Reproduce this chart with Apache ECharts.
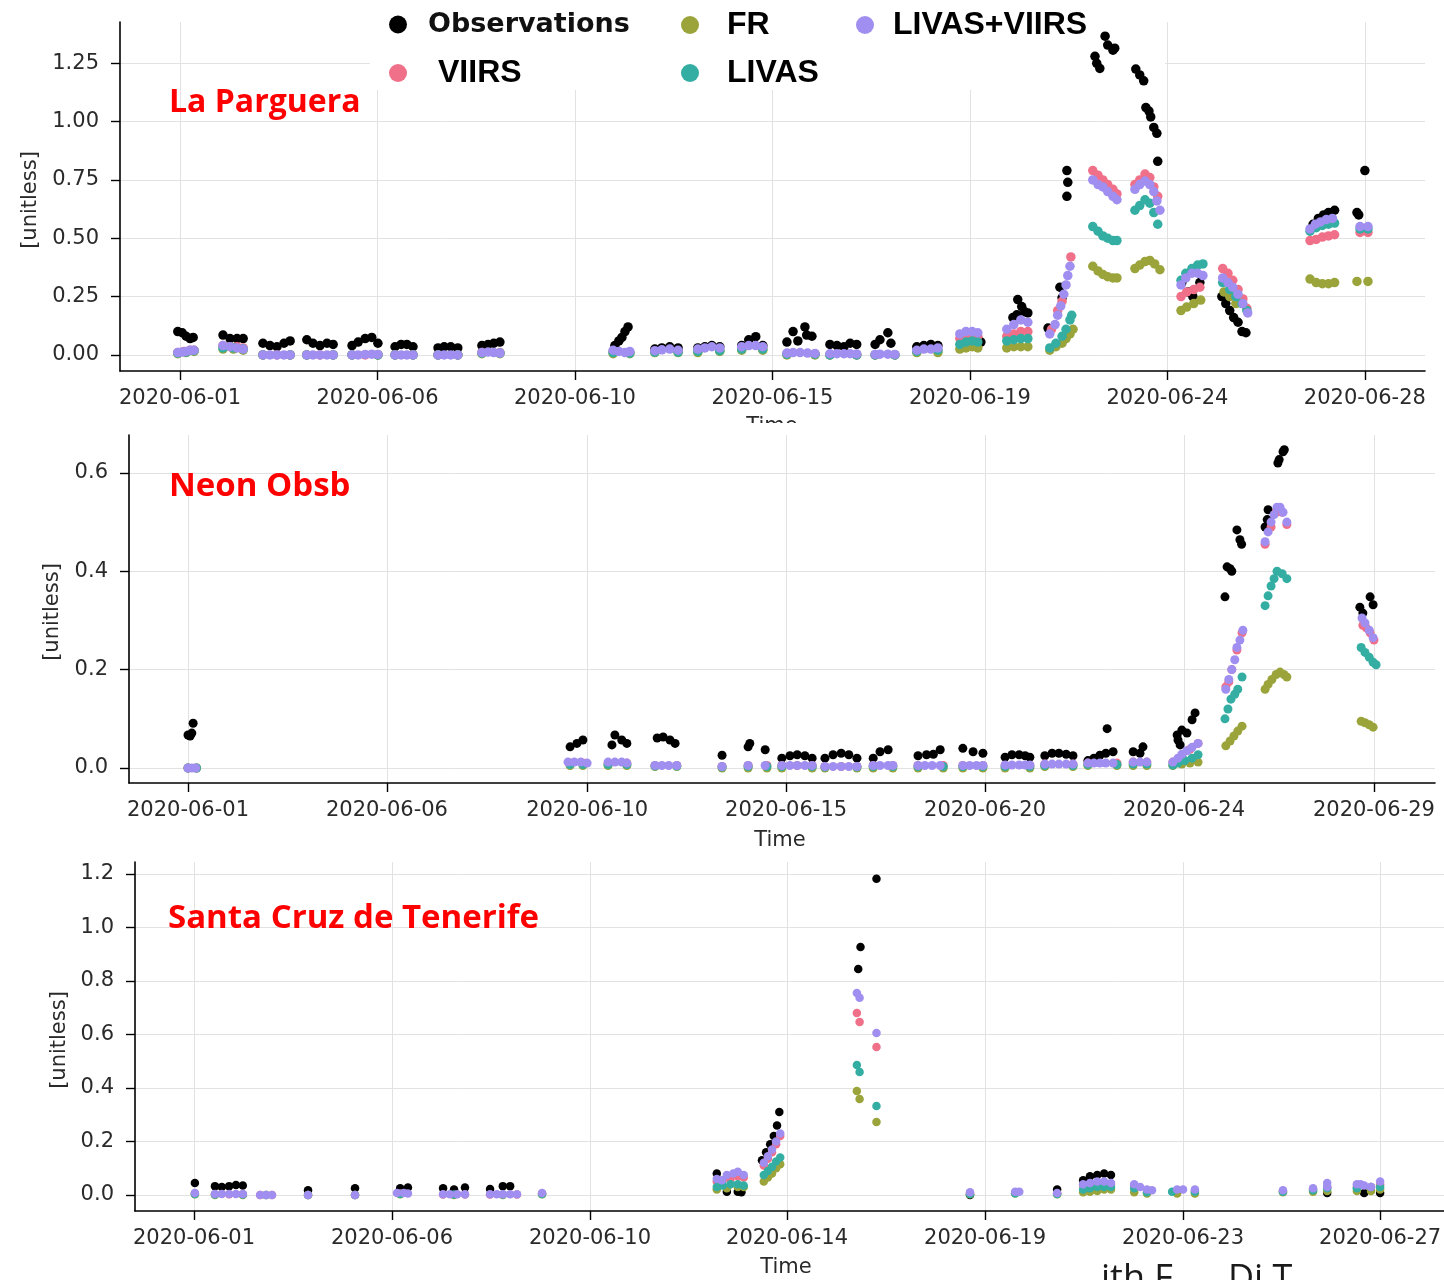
<!DOCTYPE html>
<html>
<head>
<meta charset="utf-8">
<title>Aerosol time series</title>
<script src="https://cdn.jsdelivr.net/npm/echarts@6/dist/echarts.min.js"></script>
<style>
  html, body { margin: 0; padding: 0; background: #ffffff; }
  #chart { width: 1444px; height: 1280px; }
</style>
</head>
<body>
<div id="chart"></div>
<script>
// x values are days since 2020-06-01 00:00; y values are unitless.
const seriesNames = ['Observations', 'VIIRS', 'FR', 'LIVAS', 'LIVAS+VIIRS'];

// ---------- La Parguera ----------
const parguera_obs = [
  [-0.05,0.10],[0.05,0.095],[0.14,0.08],[0.23,0.07],[0.30,0.075],
  [0.98,0.085],[1.14,0.07],[1.30,0.07],[1.44,0.07],
  [1.89,0.05],[2.05,0.04],[2.21,0.035],[2.37,0.05],[2.51,0.06],
  [2.89,0.065],[3.03,0.05],[3.19,0.04],[3.35,0.05],[3.49,0.045],
  [3.92,0.04],[4.06,0.055],[4.22,0.07],[4.37,0.075],[4.51,0.05],
  [4.90,0.035],[5.04,0.045],[5.17,0.045],[5.31,0.035],
  [5.88,0.03],[6.02,0.035],[6.17,0.035],[6.33,0.03],
  [6.88,0.04],[7.02,0.045],[7.15,0.05],[7.29,0.055],
  [9.91,0.04],[10.00,0.06],[10.07,0.075],[10.14,0.10],[10.21,0.12],
  [10.82,0.025],[10.98,0.03],[11.16,0.035],[11.35,0.03],
  [11.80,0.03],[11.96,0.035],[12.12,0.04],[12.30,0.035],
  [12.80,0.04],[12.96,0.065],[13.12,0.078],[13.28,0.04],
  [13.83,0.055],[13.97,0.10],[14.08,0.06],[14.24,0.12],[14.28,0.085],[14.40,0.08],
  [14.81,0.045],[14.97,0.04],[15.13,0.035],[15.27,0.05],[15.42,0.045],
  [15.84,0.045],[15.95,0.065],[16.13,0.095],[16.20,0.05],
  [16.79,0.035],[16.95,0.04],[17.11,0.045],[17.27,0.04],
  [17.84,0.05],[18.05,0.06],[18.25,0.055],
  [18.98,0.16],[19.07,0.172],[19.09,0.237],[19.18,0.207],[19.25,0.185],[19.32,0.18],
  [19.78,0.115],[20.05,0.29],[20.10,0.245],[20.21,0.79],[20.23,0.74],[20.21,0.68],
  [20.85,1.28],[20.89,1.25],[20.96,1.228],[21.08,1.366],[21.14,1.328],[21.26,1.306],[21.30,1.315],
  [21.78,1.225],[21.87,1.20],[21.96,1.175],[22.01,1.06],[22.08,1.045],[22.12,1.02],[22.19,0.975],[22.26,0.95],[22.28,0.83],
  [22.83,0.31],[22.97,0.27],[23.08,0.25],[23.24,0.31],
  [23.74,0.25],[23.83,0.22],[23.92,0.19],[24.01,0.16],[24.11,0.14],[24.20,0.10],[24.29,0.095],
  [25.82,0.56],[25.94,0.585],[26.06,0.60],[26.17,0.61],[26.31,0.62],
  [26.82,0.61],[26.86,0.60],[27.00,0.79]
];
const parguera_viirs = [
  [-0.05,0.01],[0.09,0.015],[0.23,0.02],[0.32,0.02],
  [0.98,0.04],[1.14,0.035],[1.30,0.035],[1.44,0.03],
  [1.89,0.0],[2.21,0.0],[2.51,0.0],[2.89,0.0],[3.19,0.0],[3.49,0.0],
  [3.92,0.0],[4.22,0.0],[4.51,0.0],[4.90,0.0],[5.31,0.0],[5.88,0.0],[6.33,0.0],
  [6.88,0.01],[7.29,0.01],[9.87,0.015],[10.25,0.01],[10.82,0.015],[11.35,0.015],
  [11.80,0.02],[12.30,0.02],[12.80,0.03],[13.28,0.03],[13.83,0.005],[14.47,0.005],
  [14.81,0.0],[15.42,0.0],[15.84,0.0],[16.29,0.0],[16.79,0.015],[17.27,0.02],
  [17.77,0.07],[17.91,0.08],[18.05,0.085],[18.18,0.08],
  [18.84,0.08],[19.00,0.09],[19.16,0.10],[19.32,0.10],
  [19.86,0.11],[20.00,0.19],[20.10,0.23],[20.30,0.42],
  [20.80,0.79],[20.92,0.77],[21.03,0.75],[21.14,0.73],[21.26,0.71],[21.35,0.69],
  [21.76,0.73],[21.87,0.75],[21.99,0.775],[22.10,0.76],[22.19,0.72],[22.28,0.68],
  [22.81,0.25],[22.94,0.27],[23.10,0.28],[23.24,0.29],
  [23.76,0.37],[23.88,0.35],[23.99,0.32],[24.11,0.28],[24.22,0.24],[24.31,0.20],
  [25.75,0.49],[25.89,0.495],[26.03,0.505],[26.17,0.51],[26.31,0.515],
  [26.89,0.525],[27.07,0.525]
];
const parguera_fr = [
  [-0.05,0.005],[0.14,0.01],[0.32,0.015],[0.98,0.025],[1.22,0.025],[1.44,0.02],
  [1.89,0.0],[2.51,0.0],[2.89,0.0],[3.49,0.0],[3.92,0.0],[4.51,0.0],[4.90,0.0],[5.31,0.0],
  [5.88,0.0],[6.33,0.0],[6.88,0.005],[7.29,0.005],[9.87,0.005],[10.25,0.005],
  [10.82,0.01],[11.35,0.01],[11.80,0.01],[12.30,0.015],[12.80,0.02],[13.28,0.02],
  [13.83,0.0],[14.47,0.0],[14.81,0.0],[15.42,0.0],[15.84,0.0],[16.29,0.0],[16.79,0.01],[17.27,0.01],
  [17.77,0.025],[17.91,0.03],[18.05,0.035],[18.18,0.03],
  [18.84,0.03],[19.00,0.035],[19.16,0.035],[19.32,0.035],
  [19.82,0.02],[19.96,0.035],[20.10,0.05],[20.19,0.07],[20.28,0.09],[20.35,0.11],
  [20.80,0.38],[20.92,0.36],[21.03,0.345],[21.14,0.335],[21.26,0.33],[21.35,0.33],
  [21.76,0.37],[21.87,0.385],[21.99,0.40],[22.10,0.405],[22.21,0.39],[22.33,0.365],
  [22.81,0.19],[22.94,0.205],[23.10,0.22],[23.26,0.235],
  [23.79,0.27],[23.92,0.25],[24.06,0.22],
  [25.75,0.325],[25.89,0.31],[26.03,0.305],[26.17,0.305],[26.31,0.31],
  [26.82,0.315],[27.07,0.315]
];
const parguera_livas = [
  [-0.05,0.008],[0.14,0.012],[0.32,0.018],[0.98,0.03],[1.22,0.03],[1.44,0.025],
  [1.89,0.0],[2.51,0.0],[2.89,0.0],[3.49,0.0],[3.92,0.0],[4.51,0.0],[4.90,0.0],[5.31,0.0],
  [5.88,0.0],[6.33,0.0],[6.88,0.008],[7.29,0.008],[9.87,0.01],[10.25,0.008],
  [10.82,0.012],[11.35,0.012],[11.80,0.015],[12.30,0.018],[12.80,0.025],[13.28,0.025],
  [13.83,0.003],[14.47,0.003],[14.81,0.0],[15.42,0.0],[15.84,0.0],[16.29,0.0],[16.79,0.015],[17.27,0.02],
  [17.77,0.045],[17.91,0.055],[18.05,0.06],[18.18,0.055],
  [18.84,0.06],[19.00,0.065],[19.16,0.07],[19.32,0.07],
  [19.82,0.03],[19.96,0.05],[20.10,0.08],[20.19,0.11],[20.28,0.15],[20.32,0.17],
  [20.80,0.55],[20.92,0.53],[21.03,0.51],[21.14,0.50],[21.26,0.49],[21.35,0.49],
  [21.76,0.62],[21.87,0.64],[21.99,0.665],[22.10,0.65],[22.19,0.61],[22.28,0.56],
  [22.81,0.32],[22.92,0.35],[23.06,0.37],[23.19,0.385],[23.31,0.39],
  [23.76,0.31],[23.92,0.28],[24.06,0.25],[24.20,0.22],[24.31,0.19],
  [25.75,0.53],[25.89,0.545],[26.03,0.555],[26.17,0.56],[26.31,0.565],
  [26.89,0.54],[27.07,0.54]
];
const parguera_livasViirs = [
  [-0.05,0.01],[0.05,0.012],[0.14,0.015],[0.23,0.02],[0.32,0.02],
  [0.98,0.04],[1.14,0.035],[1.30,0.03],[1.44,0.025],
  [1.89,0.0],[2.05,0.0],[2.21,0.0],[2.37,0.0],[2.51,0.0],
  [2.89,0.0],[3.03,0.0],[3.19,0.0],[3.35,0.0],[3.49,0.0],
  [3.92,0.0],[4.06,0.0],[4.22,0.002],[4.37,0.003],[4.51,0.002],
  [4.90,0.0],[5.04,0.0],[5.17,0.0],[5.31,0.0],
  [5.88,0.0],[6.02,0.0],[6.17,0.0],[6.33,0.0],
  [6.88,0.01],[7.02,0.012],[7.15,0.01],[7.29,0.008],
  [9.87,0.02],[10.00,0.015],[10.14,0.01],[10.25,0.015],
  [10.82,0.018],[10.98,0.022],[11.16,0.025],[11.35,0.02],
  [11.80,0.025],[11.96,0.03],[12.12,0.035],[12.30,0.03],
  [12.80,0.035],[12.96,0.04],[13.12,0.04],[13.28,0.035],
  [13.83,0.008],[13.97,0.01],[14.13,0.01],[14.30,0.008],[14.47,0.006],
  [14.81,0.005],[14.97,0.005],[15.13,0.005],[15.27,0.005],[15.42,0.004],
  [15.84,0.002],[15.95,0.003],[16.13,0.003],[16.29,0.002],
  [16.79,0.02],[16.95,0.025],[17.11,0.025],[17.27,0.03],
  [17.77,0.09],[17.91,0.10],[18.05,0.10],[18.18,0.095],
  [18.84,0.11],[19.00,0.13],[19.16,0.15],[19.32,0.14],
  [19.82,0.09],[19.94,0.13],[20.00,0.17],[20.07,0.21],[20.14,0.26],[20.19,0.30],[20.23,0.34],[20.28,0.38],
  [20.80,0.75],[20.92,0.73],[21.03,0.72],[21.14,0.70],[21.26,0.68],[21.35,0.665],
  [21.76,0.71],[21.87,0.73],[21.99,0.745],[22.10,0.73],[22.19,0.70],[22.26,0.66],[22.33,0.62],
  [22.81,0.30],[22.92,0.33],[23.06,0.35],[23.19,0.35],[23.31,0.34],
  [23.76,0.33],[23.88,0.31],[23.99,0.29],[24.11,0.26],[24.22,0.22],[24.33,0.18],
  [25.75,0.54],[25.87,0.56],[25.99,0.57],[26.12,0.58],[26.26,0.585],
  [26.89,0.55],[27.07,0.55]
];

// ---------- Neon Obsb ----------
const neon_obs = [
  [0.00,0.067],[0.05,0.065],[0.09,0.071],[0.12,0.091],
  [8.95,0.043],[9.11,0.05],[9.25,0.057],
  [9.93,0.047],[10.00,0.067],[10.16,0.057],[10.28,0.05],
  [10.99,0.061],[11.13,0.063],[11.29,0.057],[11.41,0.05],
  [12.51,0.026],
  [13.12,0.043],[13.16,0.05],[13.52,0.037],
  [13.91,0.02],[14.10,0.025],[14.27,0.027],[14.45,0.025],[14.62,0.02],
  [14.92,0.02],[15.11,0.027],[15.30,0.03],[15.48,0.027],[15.67,0.02],
  [16.05,0.02],[16.21,0.033],[16.40,0.037],
  [17.10,0.025],[17.30,0.027],[17.46,0.028],[17.62,0.037],
  [18.15,0.04],[18.39,0.033],[18.62,0.03],
  [19.14,0.022],[19.30,0.027],[19.47,0.027],[19.61,0.025],[19.72,0.022],
  [20.07,0.025],[20.24,0.03],[20.40,0.03],[20.57,0.028],[20.73,0.025],
  [21.08,0.015],[21.22,0.02],[21.36,0.026],[21.50,0.03],[21.53,0.08],[21.67,0.033],
  [22.14,0.033],[22.30,0.03],[22.37,0.043],
  [23.17,0.067],[23.19,0.057],[23.24,0.047],[23.28,0.077],[23.40,0.071],[23.52,0.098],[23.59,0.112],
  [24.29,0.348],[24.34,0.409],[24.41,0.405],[24.45,0.40],[24.57,0.484],[24.64,0.464],[24.68,0.455],
  [25.23,0.49],[25.28,0.505],[25.30,0.525],[25.53,0.62],[25.56,0.627],[25.65,0.643],[25.68,0.647],
  [27.45,0.327],[27.52,0.315],[27.69,0.348],[27.76,0.332]
];
const neon_viirs = [
  [0.00,0.0],[0.20,0.0],
  [8.95,0.01],[9.25,0.01],[9.84,0.01],[10.28,0.01],[10.94,0.005],[11.45,0.005],[12.51,0.003],
  [13.12,0.005],[13.56,0.005],[13.91,0.005],[14.27,0.005],[14.62,0.005],
  [14.92,0.003],[15.30,0.003],[15.67,0.003],[16.05,0.005],[16.51,0.005],
  [17.10,0.005],[17.69,0.005],[18.15,0.005],[18.62,0.005],[19.14,0.005],[19.72,0.005],
  [20.07,0.008],[20.73,0.008],[21.08,0.01],[21.76,0.01],[22.14,0.012],[22.46,0.012],
  [23.07,0.012],[23.28,0.025],[23.47,0.038],[23.66,0.05],
  [24.31,0.165],[24.38,0.175],[24.45,0.20],[24.57,0.24],[24.69,0.275],
  [25.23,0.455],[25.37,0.49],[25.49,0.52],[25.63,0.52],[25.74,0.495],
  [27.52,0.29],[27.60,0.285],[27.69,0.275],[27.78,0.26]
];
const neon_fr = [
  [0.00,0.0],[0.20,0.0],
  [8.95,0.005],[9.25,0.005],[9.84,0.005],[10.28,0.005],[10.94,0.003],[11.45,0.003],[12.51,0.0],
  [13.12,0.0],[13.56,0.0],[13.91,0.0],[14.62,0.0],[14.92,0.0],[15.67,0.0],[16.05,0.0],[16.51,0.0],
  [17.10,0.0],[17.69,0.0],[18.15,0.0],[18.62,0.0],[19.14,0.0],[19.72,0.0],
  [20.07,0.003],[20.73,0.003],[21.08,0.005],[21.76,0.005],[22.14,0.005],[22.46,0.005],
  [23.07,0.005],[23.28,0.008],[23.47,0.01],[23.66,0.012],
  [24.31,0.045],[24.41,0.055],[24.50,0.065],[24.59,0.075],[24.69,0.085],
  [25.23,0.16],[25.30,0.17],[25.39,0.18],[25.49,0.19],[25.58,0.195],[25.67,0.19],[25.74,0.185],
  [27.48,0.095],[27.57,0.092],[27.67,0.088],[27.76,0.083]
];
const neon_livas = [
  [0.00,0.0],[0.20,0.0],
  [8.95,0.007],[9.25,0.007],[9.84,0.007],[10.28,0.007],[10.94,0.004],[11.45,0.004],[12.51,0.002],
  [13.12,0.003],[13.56,0.003],[13.91,0.003],[14.62,0.003],[14.92,0.002],[15.67,0.002],[16.05,0.003],[16.51,0.003],
  [17.10,0.003],[17.69,0.003],[18.15,0.003],[18.62,0.003],[19.14,0.003],[19.72,0.003],
  [20.07,0.005],[20.73,0.005],[21.08,0.007],[21.76,0.007],[22.14,0.008],[22.46,0.008],
  [23.07,0.006],[23.19,0.01],[23.35,0.015],[23.52,0.02],[23.66,0.027],
  [24.29,0.10],[24.36,0.12],[24.43,0.14],[24.52,0.15],[24.59,0.16],[24.69,0.185],
  [25.23,0.33],[25.30,0.35],[25.37,0.37],[25.44,0.385],[25.51,0.40],[25.63,0.395],[25.74,0.385],
  [27.48,0.245],[27.57,0.235],[27.67,0.225],[27.76,0.215],[27.83,0.21]
];
const neon_livasViirs = [
  [0.00,0.0],[0.09,0.0],[0.18,0.0],
  [8.90,0.012],[9.05,0.012],[9.20,0.012],[9.35,0.01],
  [9.84,0.012],[10.00,0.012],[10.16,0.012],[10.28,0.01],
  [10.94,0.005],[11.10,0.005],[11.26,0.005],[11.45,0.005],
  [12.51,0.003],[13.12,0.005],[13.52,0.005],
  [13.91,0.005],[14.10,0.005],[14.27,0.005],[14.45,0.005],[14.62,0.005],
  [14.92,0.003],[15.11,0.003],[15.30,0.003],[15.48,0.003],[15.67,0.003],
  [16.05,0.005],[16.21,0.005],[16.40,0.005],[16.51,0.005],
  [17.10,0.005],[17.26,0.005],[17.43,0.005],[17.62,0.005],
  [18.15,0.005],[18.31,0.005],[18.47,0.005],[18.62,0.005],
  [19.14,0.006],[19.30,0.006],[19.47,0.006],[19.61,0.006],[19.72,0.006],
  [20.07,0.008],[20.24,0.008],[20.40,0.008],[20.57,0.008],[20.73,0.008],
  [21.08,0.01],[21.22,0.01],[21.36,0.01],[21.50,0.01],[21.67,0.01],
  [22.14,0.012],[22.30,0.012],[22.46,0.012],
  [23.07,0.012],[23.19,0.02],[23.28,0.028],[23.40,0.035],[23.52,0.042],[23.66,0.05],
  [24.31,0.16],[24.38,0.18],[24.45,0.20],[24.52,0.22],[24.57,0.245],[24.64,0.26],[24.71,0.28],
  [25.23,0.46],[25.30,0.48],[25.37,0.50],[25.44,0.515],[25.51,0.53],[25.58,0.53],[25.65,0.52],[25.74,0.50],
  [27.50,0.305],[27.57,0.295],[27.67,0.28],[27.76,0.265]
];

// ---------- Santa Cruz de Tenerife ----------
const tenerife_obs = [
  [0.02,0.045],
  [0.46,0.033],[0.61,0.03],[0.77,0.033],[0.92,0.037],[1.07,0.035],
  [2.50,0.018],[3.53,0.025],[4.52,0.025],[4.69,0.028],
  [5.46,0.025],[5.70,0.02],[5.94,0.028],
  [6.49,0.022],[6.77,0.033],[6.93,0.033],
  [11.46,0.08],[11.68,0.012],[11.92,0.012],[12.00,0.01],
  [12.45,0.13],[12.54,0.16],[12.63,0.19],[12.71,0.22],[12.78,0.26],[12.83,0.31],
  [14.56,0.845],[14.61,0.927],[14.96,1.182],
  [17.01,0.0],[18.92,0.02],
  [19.49,0.055],[19.64,0.07],[19.80,0.075],[19.95,0.08],[20.10,0.075],
  [24.84,0.007],[25.65,0.007],[26.00,0.007]
];
const tenerife_viirs = [
  [0.02,0.005],[0.46,0.003],[0.77,0.003],[1.07,0.003],[1.45,0.0],[1.71,0.0],
  [2.50,0.0],[3.53,0.0],[4.52,0.005],[5.46,0.002],[5.94,0.002],[6.49,0.002],[7.08,0.002],[7.63,0.005],
  [11.46,0.05],[11.59,0.055],[11.76,0.06],[11.92,0.07],[12.05,0.065],
  [12.49,0.11],[12.58,0.135],[12.67,0.16],[12.76,0.19],[12.85,0.22],
  [14.53,0.68],[14.59,0.647],[14.96,0.553],
  [17.01,0.005],[18.00,0.008],[18.92,0.005],
  [19.49,0.035],[19.64,0.04],[19.80,0.045],[19.95,0.045],[20.10,0.04],
  [20.61,0.035],[20.89,0.015],[21.55,0.015],[21.94,0.015],
  [23.87,0.015],[24.53,0.02],[24.84,0.03],[25.49,0.03],[25.80,0.03],[26.00,0.04]
];
const tenerife_fr = [
  [0.02,0.003],[0.46,0.0],[1.07,0.0],[1.58,0.0],[2.50,0.0],[3.53,0.0],[4.52,0.003],[5.70,0.0],[6.77,0.0],[7.63,0.003],
  [11.46,0.02],[11.68,0.025],[11.92,0.03],[12.05,0.03],
  [12.49,0.05],[12.58,0.065],[12.67,0.08],[12.76,0.10],[12.85,0.115],
  [14.53,0.389],[14.59,0.359],[14.96,0.273],
  [17.01,0.003],[18.00,0.005],[18.92,0.003],
  [19.49,0.01],[19.64,0.012],[19.80,0.015],[19.95,0.02],[20.10,0.02],
  [20.61,0.01],[20.89,0.005],[21.55,0.005],[21.94,0.005],
  [23.87,0.01],[24.53,0.012],[24.84,0.015],[25.49,0.015],[25.80,0.015],[26.00,0.02]
];
const tenerife_livas = [
  [0.02,0.004],[0.46,0.002],[1.07,0.002],[1.58,0.0],[2.50,0.0],[3.53,0.0],[4.52,0.004],[5.70,0.002],[6.77,0.002],[7.63,0.004],
  [11.46,0.03],[11.59,0.035],[11.76,0.04],[11.92,0.04],[12.05,0.035],
  [12.49,0.075],[12.58,0.09],[12.67,0.105],[12.76,0.125],[12.85,0.14],
  [14.53,0.486],[14.59,0.46],[14.96,0.333],
  [17.01,0.004],[18.00,0.006],[18.92,0.004],
  [19.49,0.02],[19.64,0.025],[19.80,0.03],[19.95,0.03],[20.10,0.03],
  [20.61,0.025],[20.89,0.01],[21.44,0.012],[21.94,0.012],
  [23.87,0.012],[24.53,0.018],[24.84,0.025],[25.49,0.025],[25.80,0.03],[26.00,0.03]
];
const tenerife_livasViirs = [
  [0.02,0.007],
  [0.46,0.004],[0.61,0.004],[0.77,0.004],[0.92,0.004],[1.07,0.004],
  [1.45,0.0],[1.58,0.0],[1.71,0.0],[2.50,0.0],[3.53,0.0],
  [4.45,0.007],[4.60,0.007],[4.69,0.005],
  [5.46,0.003],[5.61,0.003],[5.77,0.003],[5.94,0.003],
  [6.49,0.003],[6.64,0.003],[6.77,0.003],[6.93,0.003],[7.08,0.003],[7.63,0.007],
  [11.46,0.06],[11.57,0.055],[11.68,0.075],[11.82,0.08],[11.92,0.087],[12.05,0.075],
  [12.49,0.12],[12.58,0.145],[12.67,0.17],[12.76,0.20],[12.85,0.23],
  [14.53,0.755],[14.59,0.737],[14.96,0.606],
  [17.01,0.01],[18.00,0.012],[18.09,0.012],[18.92,0.007],
  [19.49,0.04],[19.64,0.045],[19.80,0.05],[19.95,0.05],[20.10,0.045],
  [20.61,0.04],[20.74,0.03],[20.89,0.02],[21.00,0.018],
  [21.55,0.02],[21.68,0.02],[21.94,0.02],
  [23.87,0.018],[24.53,0.025],[24.84,0.045],[24.84,0.03],
  [25.49,0.04],[25.57,0.04],[25.65,0.035],[25.80,0.03],[26.00,0.05]
];

// ---------- axis ticks ----------
const tickDays1 = [0, 4.5, 9, 13.5, 18, 22.5, 27];
const tickLabels1 = ['2020-06-01','2020-06-06','2020-06-10','2020-06-15','2020-06-19','2020-06-24','2020-06-28'];
const tickDays2 = [0, 4.66, 9.35, 14.01, 18.67, 23.33, 27.78];
const tickLabels2 = ['2020-06-01','2020-06-06','2020-06-10','2020-06-15','2020-06-20','2020-06-24','2020-06-29'];
const tickDays3 = [0, 4.34, 8.68, 13, 17.34, 21.68, 26];
const tickLabels3 = ['2020-06-01','2020-06-06','2020-06-10','2020-06-14','2020-06-19','2020-06-23','2020-06-27'];
const yTicks1 = [0, 0.25, 0.5, 0.75, 1.0, 1.25];
const yTicks2 = [0, 0.2, 0.4, 0.6];
const yTicks3 = [0, 0.2, 0.4, 0.6, 0.8, 1.0, 1.2];

const siteNames = ['La Parguera', 'Neon Obsb', 'Santa Cruz de Tenerife'];

// ---------- styling ----------
const palette = ['#000000', '#ef7088', '#9aa43a', '#34aea2', '#a08ef0'];
const INK = '#2a2a2a';
const GRID = '#e2e2e2';

const panels = [
  { series: [parguera_obs, parguera_viirs, parguera_fr, parguera_livas, parguera_livasViirs],
    box: { left: 120, top: 22, width: 1305, height: 349 }, dot: 9.5,
    x: { min: -1.367, max: 28.37, ticks: tickDays1, labels: tickLabels1 },
    y: { min: -0.069, max: 1.427, ticks: yTicks1, digits: 2 } },
  { series: [neon_obs, neon_viirs, neon_fr, neon_livas, neon_livasViirs],
    box: { left: 129, top: 435, width: 1306, height: 348 }, dot: 9,
    x: { min: -1.382, max: 29.21, ticks: tickDays2, labels: tickLabels2 },
    y: { min: -0.0305, max: 0.677, ticks: yTicks2, digits: 1 } },
  { series: [tenerife_obs, tenerife_viirs, tenerife_fr, tenerife_livas, tenerife_livasViirs],
    box: { left: 135, top: 862, width: 1309, height: 349 }, dot: 8.5,
    x: { min: -1.293, max: 27.40, ticks: tickDays3, labels: tickLabels3 },
    y: { min: -0.060, max: 1.245, ticks: yTicks3, digits: 1 } }
];

function nearestLabel(days, labels) {
  return function (v) {
    let k = 0, best = Infinity;
    days.forEach(function (d, i) { const e = Math.abs(d - v); if (e < best) { best = e; k = i; } });
    return labels[k];
  };
}

const tickFont = { color: INK, fontSize: 21, fontFamily: 'DejaVu Sans' };

const grids = [], xAxes = [], yAxes = [], series = [];
panels.forEach(function (p, i) {
  grids.push(Object.assign({ containLabel: false, outerBoundsMode: 'none', show: false }, p.box));
  xAxes.push({
    type: 'value', gridIndex: i, min: p.x.min, max: p.x.max,
    axisLine: { show: true, onZero: false, lineStyle: { color: '#000', width: 1.6 } },
    axisTick: { show: true, inside: false, length: 9, customValues: p.x.ticks, lineStyle: { color: '#000', width: 1.4 } },
    axisLabel: Object.assign({ customValues: p.x.ticks, margin: 17, formatter: nearestLabel(p.x.ticks, p.x.labels) }, tickFont),
    splitLine: { show: true, lineStyle: { color: GRID, width: 1 } }
  });
  yAxes.push({
    type: 'value', gridIndex: i, min: p.y.min, max: p.y.max,
    axisLine: { show: true, onZero: false, lineStyle: { color: '#000', width: 1.6 } },
    axisTick: { show: true, inside: false, length: 9, customValues: p.y.ticks, lineStyle: { color: '#000', width: 1.4 } },
    axisLabel: Object.assign({ customValues: p.y.ticks, margin: 21, formatter: (function (d) { return function (v) { return v.toFixed(d); }; })(p.y.digits) }, tickFont),
    splitLine: { show: true, lineStyle: { color: GRID, width: 1 } }
  });
  p.series.forEach(function (pts, k) {
    series.push({
      name: seriesNames[k], type: 'scatter', xAxisIndex: i, yAxisIndex: i,
      data: pts, symbol: 'circle', symbolSize: p.dot,
      itemStyle: { color: palette[k], opacity: 1 },
      emphasis: { disabled: true }, silent: true, z: 2
    });
  });
});

// legend entries, laid out in three columns at the top
function legendItem(name, left, top, itemWidth, font) {
  return {
    data: [name], left: left, top: top, padding: 0, orient: 'horizontal',
    icon: 'circle', itemWidth: itemWidth, itemHeight: 18, symbolKeepAspect: true,
    selectedMode: false, z: 6,
    textStyle: font
  };
}
const obsFont = { fontFamily: 'DejaVu Sans', fontWeight: 'bold', fontSize: 27, color: '#111' };
const modelFont = { fontFamily: 'Liberation Sans', fontWeight: 'bold', fontSize: 32, color: '#000' };
const legends = [
  legendItem('Observations', 389, 11, 50, obsFont),
  legendItem('VIIRS', 389, 57, 70, modelFont),
  legendItem('FR', 681, 9, 64, modelFont),
  legendItem('LIVAS', 681, 57, 64, modelFont),
  legendItem('LIVAS+VIIRS', 856, 9, 46, modelFont)
];

function label(text, x, y, font, fill) {
  return {
    type: 'text', x: x, y: y, z: 10,
    style: { text: text, fill: fill, font: font, align: 'left', verticalAlign: 'middle', textAlign: 'left', textVerticalAlign: 'middle' }
  };
}
function centered(text, x, y, font, fill, rot) {
  return {
    type: 'text', x: x, y: y, z: 10, rotation: rot || 0,
    style: { text: text, fill: fill, font: font, align: 'center', verticalAlign: 'middle', textAlign: 'center', textVerticalAlign: 'middle' }
  };
}

const titleFont = 'bold 33px "Open Sans", "Noto Sans", sans-serif';
const axisNameFont = '21px "DejaVu Sans"';
const graphics = [
  // white backing behind the legend
  { type: 'rect', z: 1, shape: { x: 370, y: 0, width: 795, height: 90 }, style: { fill: '#ffffff' } },
  label(siteNames[0], 169, 103, 'bold 32px "Open Sans", "Noto Sans", sans-serif', '#ff0000'),
  label(siteNames[1], 169, 487, titleFont, '#ff0000'),
  label(siteNames[2], 168, 919, titleFont, '#ff0000'),
  centered('[unitless]', 31, 200, axisNameFont, INK, Math.PI / 2),
  centered('[unitless]', 53, 612, axisNameFont, INK, Math.PI / 2),
  centered('[unitless]', 60, 1040, axisNameFont, INK, Math.PI / 2),
  centered('Time', 772, 427, axisNameFont, INK),
  { type: 'rect', z: 11, shape: { x: 720, y: 423, width: 110, height: 11 }, style: { fill: '#ffffff' } },
  centered('Time', 780, 841, axisNameFont, INK),
  centered('Time', 786, 1268, axisNameFont, INK),
  { type: 'text', x: 1101, y: 1262, z: 10, style: { text: 'ith F', fill: '#1a1a1a', font: '36px "Open Sans"', align: 'left', verticalAlign: 'top', textAlign: 'left', textVerticalAlign: 'top' } },
  { type: 'text', x: 1228, y: 1262, z: 10, style: { text: 'Di T', fill: '#1a1a1a', font: '36px "Open Sans"', align: 'left', verticalAlign: 'top', textAlign: 'left', textVerticalAlign: 'top' } }
];

const chart = echarts.init(document.getElementById('chart'), null, { renderer: 'canvas' });
chart.setOption({
  animation: false,
  backgroundColor: '#ffffff',
  grid: grids,
  xAxis: xAxes,
  yAxis: yAxes,
  legend: legends,
  series: series,
  graphic: graphics
});
</script>
</body>
</html>
